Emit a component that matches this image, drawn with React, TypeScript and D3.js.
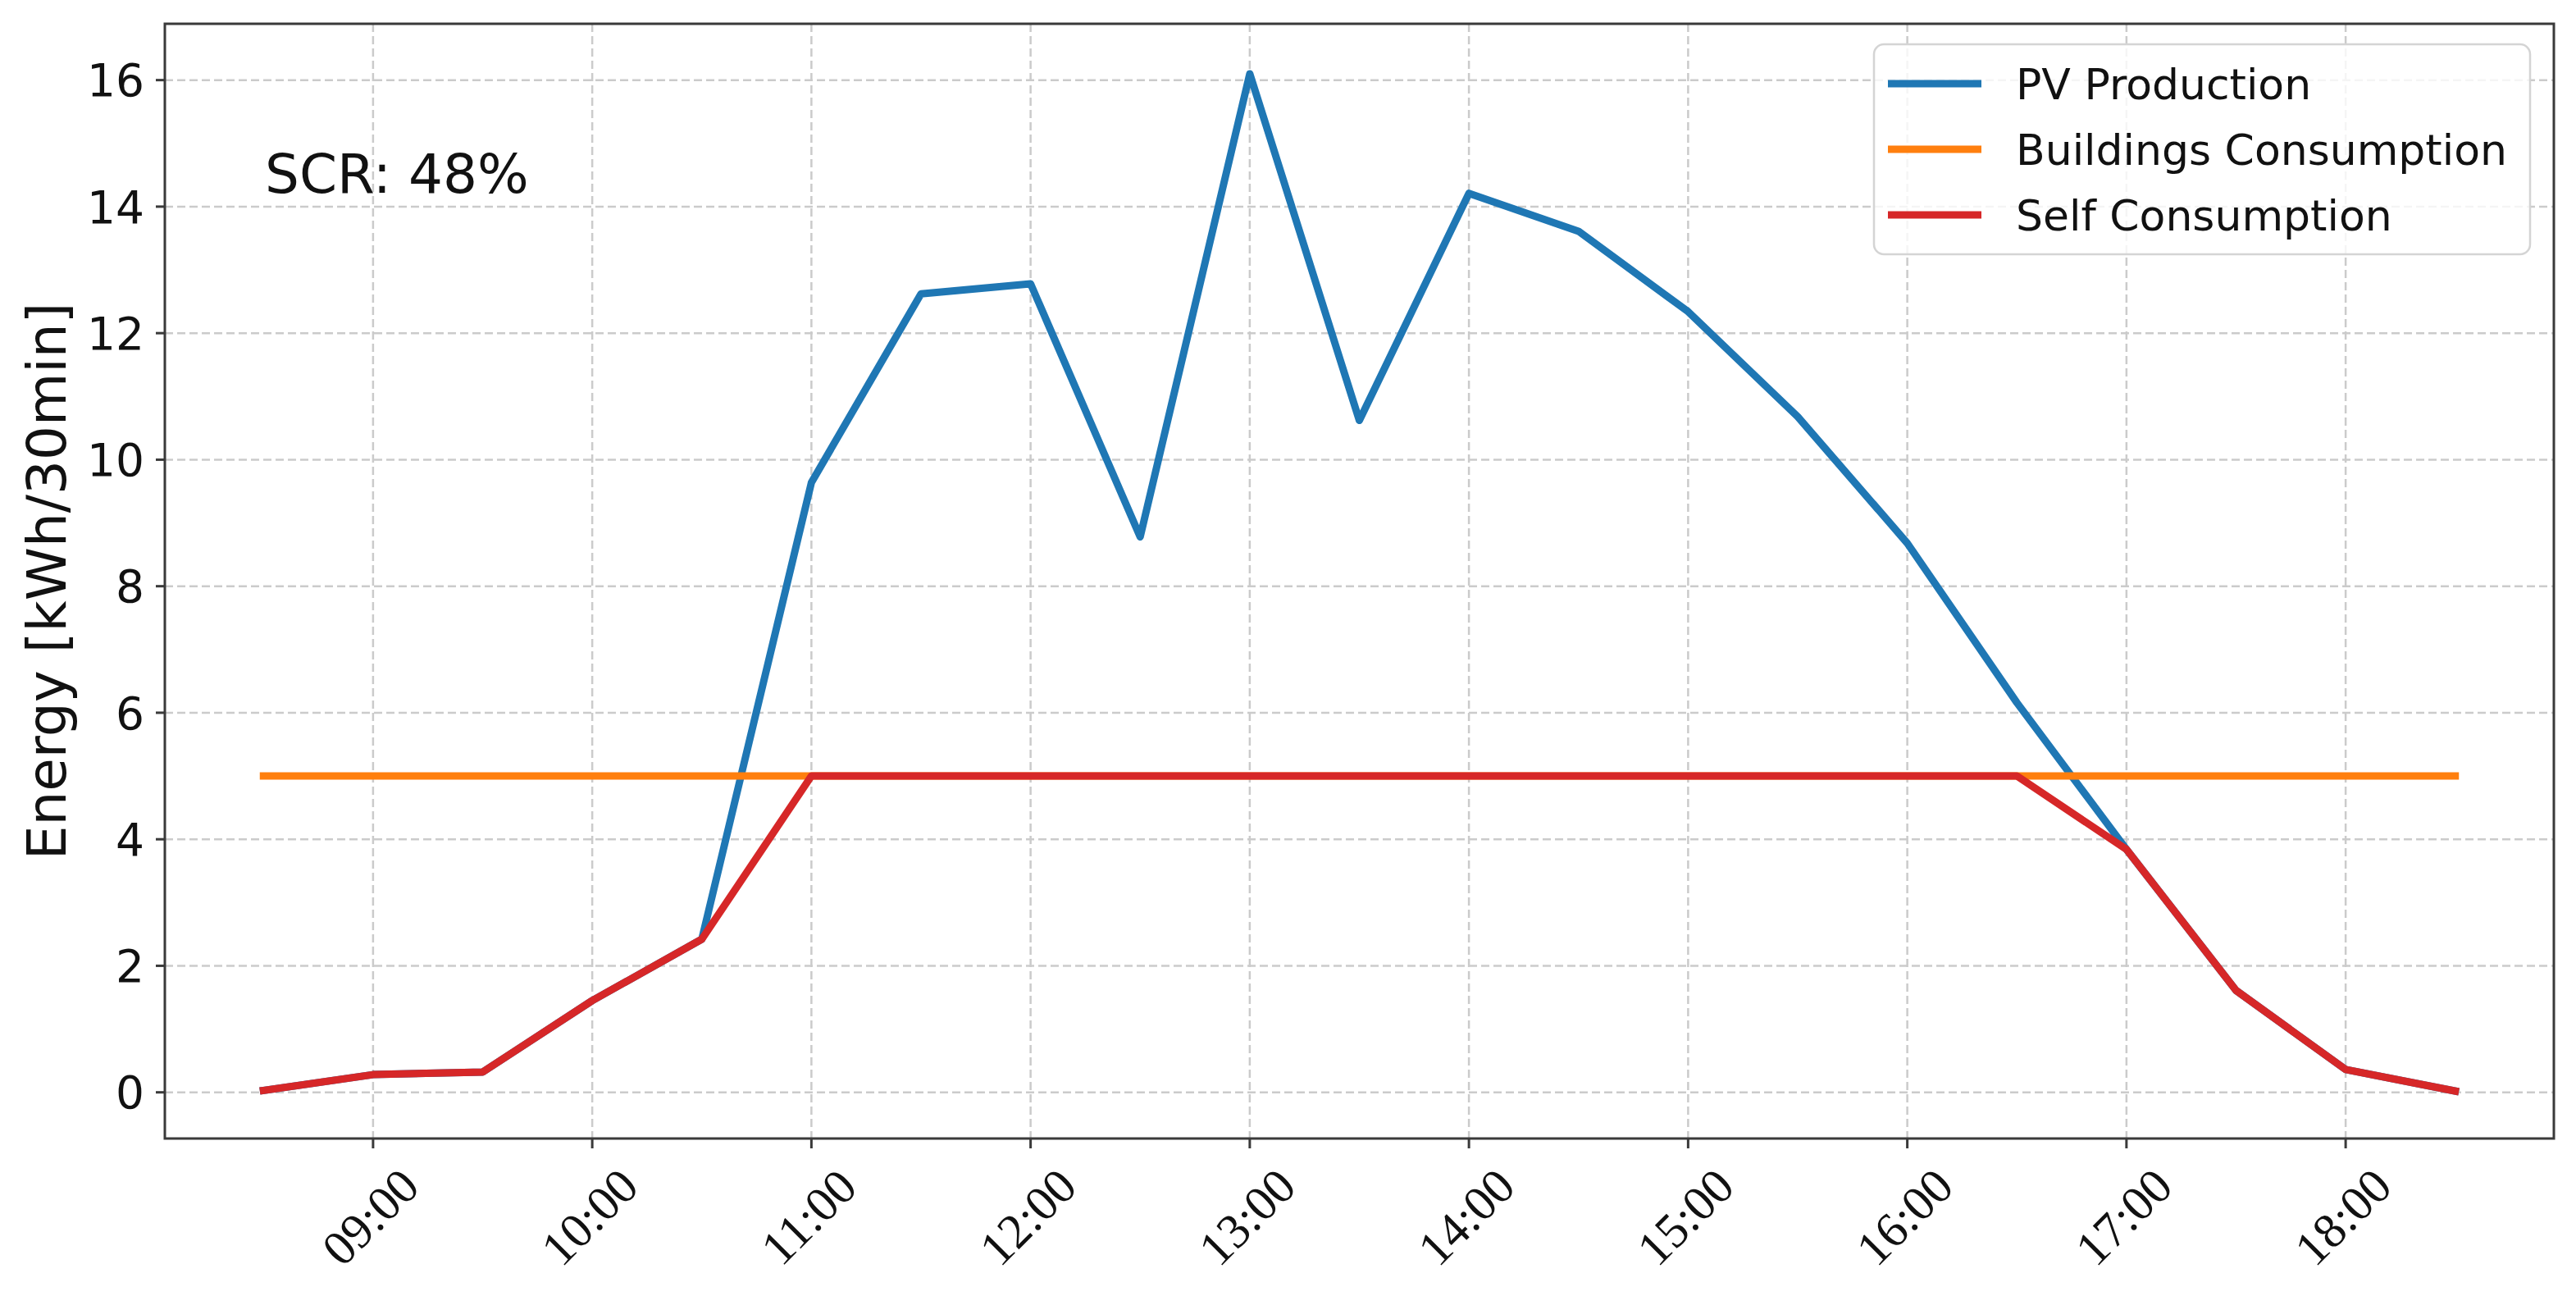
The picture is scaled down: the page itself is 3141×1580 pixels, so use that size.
import React, { useEffect, useRef } from 'react';
import * as d3 from 'd3';

// half-hourly slots
const times = [
  '08:30', '09:00', '09:30', '10:00', '10:30', '11:00', '11:30', '12:00', '12:30', '13:00', '13:30',
  '14:00', '14:30', '15:00', '15:30', '16:00', '16:30', '17:00', '17:30', '18:00', '18:30',
];
const pvProduction = [
  0.03, 0.28, 0.32, 1.45, 2.42, 9.64, 12.62, 12.78, 8.78, 16.1, 10.62,
  14.21, 13.61, 12.34, 10.68, 8.68, 6.16, 3.84, 1.61, 0.36, 0.02,
];
const buildingsConsumption = [
  5, 5, 5, 5, 5, 5, 5, 5, 5, 5, 5,
  5, 5, 5, 5, 5, 5, 5, 5, 5, 5,
];
const selfConsumption = [
  0.03, 0.28, 0.32, 1.45, 2.42, 5, 5, 5, 5, 5, 5,
  5, 5, 5, 5, 5, 5, 3.84, 1.61, 0.36, 0.02,
];
const hourTicks = ['09:00', '10:00', '11:00', '12:00', '13:00', '14:00', '15:00', '16:00', '17:00', '18:00'];
const yTicks = [0, 2, 4, 6, 8, 10, 12, 14, 16];
const seriesNames = ['PV Production', 'Buildings Consumption', 'Self Consumption'];
const seriesColors = ['#1f77b4', '#ff7f0e', '#d62728'];
const scrLabel = 'SCR: 48%';

const W = 3141;
const H = 1580;

const App = () => {
  const chartRef = useRef<HTMLDivElement>(null);

  useEffect(() => {
    d3.select(chartRef.current).selectAll('*').remove();

    const margin = { top: 29, right: 27, bottom: 192, left: 201 };
    const width = W - margin.left - margin.right;
    const height = H - margin.top - margin.bottom;

    const svg = d3.select(chartRef.current)
      .append('svg')
      .attr('width', W)
      .attr('height', H)
      .style('display', 'block')
      .append('g')
      .attr('transform', `translate(${margin.left},${margin.top})`);

    const parse = d3.timeParse('%H:%M');
    const dates = times.map(t => parse(t) as Date);
    const ext = d3.extent(dates) as [Date, Date];

    const x = d3.scaleTime()
      .domain([d3.timeMinute.offset(ext[0], -27), d3.timeMinute.offset(ext[1], 27)])
      .range([0, width]);

    const y = d3.scaleLinear()
      .domain([-0.73, 16.89])
      .range([height, 0]);

    const gridColor = '#cbcbcb';
    const axisColor = '#3a3a3a';

    // grid
    svg.append('g')
      .selectAll('line')
      .data(hourTicks)
      .enter().append('line')
      .attr('x1', d => x(parse(d) as Date))
      .attr('x2', d => x(parse(d) as Date))
      .attr('y1', 0)
      .attr('y2', height)
      .attr('stroke', gridColor)
      .attr('stroke-width', 2.5)
      .attr('stroke-dasharray', '10,5');

    svg.append('g')
      .selectAll('line')
      .data(yTicks)
      .enter().append('line')
      .attr('x1', 0)
      .attr('x2', width)
      .attr('y1', d => y(d))
      .attr('y2', d => y(d))
      .attr('stroke', gridColor)
      .attr('stroke-width', 2.5)
      .attr('stroke-dasharray', '10,5');

    // lines
    const allSeries = [pvProduction, buildingsConsumption, selfConsumption];
    const line = d3.line<number>()
      .x((_, i) => x(dates[i]))
      .y(d => y(d));

    allSeries.forEach((s, i) => {
      svg.append('path')
        .datum(s)
        .attr('d', line)
        .attr('fill', 'none')
        .attr('stroke', seriesColors[i])
        .attr('stroke-width', 9)
        .attr('stroke-linejoin', 'round')
        .attr('stroke-linecap', 'square');
    });

    // spines
    svg.append('rect')
      .attr('x', 0)
      .attr('y', 0)
      .attr('width', width)
      .attr('height', height)
      .attr('fill', 'none')
      .attr('stroke', axisColor)
      .attr('stroke-width', 3);

    // y ticks
    const yt = svg.append('g');
    yTicks.forEach(v => {
      yt.append('line')
        .attr('x1', -11).attr('x2', 0)
        .attr('y1', y(v)).attr('y2', y(v))
        .attr('stroke', axisColor).attr('stroke-width', 3);
      yt.append('text')
        .attr('x', -25)
        .attr('y', y(v) + 0.36 * 55)
        .attr('text-anchor', 'end')
        .attr('font-family', 'DejaVu Sans')
        .attr('font-size', 55)
        .attr('fill', '#111')
        .text(v);
    });

    // x ticks, rotated 45deg
    const xt = svg.append('g');
    hourTicks.forEach(t => {
      const px = x(parse(t) as Date);
      xt.append('line')
        .attr('x1', px).attr('x2', px)
        .attr('y1', height).attr('y2', height + 12)
        .attr('stroke', axisColor).attr('stroke-width', 3);
      const cy = height + 96;
      xt.append('text')
        .attr('x', px - 3)
        .attr('y', cy + 0.33 * 60)
        .attr('text-anchor', 'middle')
        .attr('font-family', 'Liberation Serif')
        .attr('font-size', 60)
        .attr('fill', '#111')
        .attr('transform', `rotate(-45,${px - 3},${cy})`)
        .text(t);
    });

    // y label
    svg.append('text')
      .attr('transform', `translate(${80 - margin.left},${height / 2}) rotate(-90)`)
      .attr('text-anchor', 'middle')
      .attr('font-family', 'DejaVu Sans')
      .attr('font-size', 66)
      .attr('fill', '#111')
      .text('Energy [kWh/30min]');

    // SCR annotation
    svg.append('text')
      .attr('x', 323 - margin.left)
      .attr('y', 235 - margin.top)
      .attr('font-family', 'DejaVu Sans')
      .attr('font-size', 66)
      .attr('fill', '#111')
      .text(scrLabel);

    // legend
    const lg = svg.append('g')
      .attr('transform', `translate(${2285 - margin.left},${54 - margin.top})`);
    lg.append('rect')
      .attr('width', 800)
      .attr('height', 256)
      .attr('rx', 12)
      .attr('fill', 'white')
      .attr('fill-opacity', 0.8)
      .attr('stroke', '#d4d4d4')
      .attr('stroke-width', 2.5);
    seriesNames.forEach((name, i) => {
      const ly = 48 + i * 80;
      lg.append('line')
        .attr('x1', 17).attr('x2', 131)
        .attr('y1', ly).attr('y2', ly)
        .attr('stroke', seriesColors[i])
        .attr('stroke-width', 9);
      lg.append('text')
        .attr('x', 173)
        .attr('y', ly + 0.36 * 52)
        .attr('font-family', 'DejaVu Sans')
        .attr('font-size', 52)
        .attr('fill', '#111')
        .text(name);
    });
  }, []);

  return (
    <div style={{ position: 'absolute', left: 0, top: 0, background: 'white' }}>
      <div ref={chartRef}></div>
    </div>
  );
};

export default App;
